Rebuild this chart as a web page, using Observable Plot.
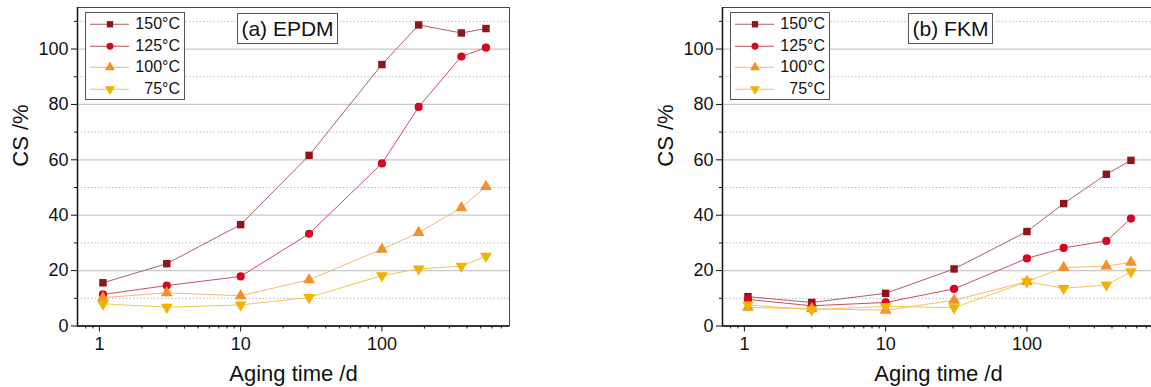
<!DOCTYPE html>
<html>
<head>
<meta charset="utf-8">
<script src="https://cdn.jsdelivr.net/npm/d3@7"></script>
<script src="https://cdn.jsdelivr.net/npm/@observablehq/plot@0.6"></script>
<style>
  html, body { margin: 0; padding: 0; background: #fff; overflow: hidden; width: 1151px; height: 387px; }
  #wrap { position: relative; width: 1151px; height: 387px; overflow: hidden; }
  .panel { position: absolute; top: 0; width: 575px; height: 387px; }
  .panel svg { font-family: Arial, "Liberation Sans", sans-serif; overflow: visible; max-width: none !important; width: 575px; height: 387px; }
  .legend { position: absolute; border: 1px solid #555; background: #fff; font-family: Arial, "Liberation Sans", sans-serif; font-size: 16px; color: #111; }
  .legend .row { position: relative; height: 21.5px; }
  .legend svg { position: absolute; left: 0; top: 0; }
  .legend .lab { position: absolute; right: 4px; top: 1px; line-height: 20px; }
  .title { position: absolute; border: 1px solid #555; background: #fff; font-family: Arial, "Liberation Sans", sans-serif; font-size: 21px; color: #111; text-align: center; line-height: 29px; }
</style>
</head>
<body>
<div id="wrap"></div>
<script>
// ---- data ----
const agingDays = [1.06, 3, 10, 30.5, 100, 182, 365, 545];
const temps = ["150°C", "125°C", "100°C", "75°C"];
const epdm150 = [15.6, 22.5, 36.6, 61.6, 94.4, 108.7, 105.8, 107.4];
const epdm125 = [11.4, 14.6, 17.9, 33.3, 58.7, 79.1, 97.3, 100.5];
const epdm100 = [10.2, 12.0, 10.9, 16.7, 27.7, 33.7, 42.7, 50.3];
const epdm75  = [8.0, 6.8, 7.6, 10.3, 18.2, 20.6, 21.6, 25.2];
const fkm150 = [10.6, 8.5, 11.8, 20.6, 34.1, 44.2, 54.8, 59.8];
const fkm125 = [9.6, 7.3, 8.5, 13.4, 24.4, 28.2, 30.7, 38.8];
const fkm100 = [6.7, 6.2, 5.7, 9.3, 16.0, 21.1, 21.6, 23.0];
const fkm75  = [7.6, 5.9, 7.1, 6.6, 16.0, 13.6, 14.8, 19.6];
const panelTitles = ["(a) EPDM", "(b) FKM"];
const yMajor = [0, 20, 40, 60, 80, 100];
const yMinor = [10, 30, 50, 70, 90, 110];
const xMajor = [1, 10, 100];
const xMinor = [0.8, 0.9, 2, 3, 4, 5, 6, 7, 8, 9, 20, 30, 40, 50, 60, 70, 80, 90, 200, 300, 400, 500, 600, 700];
const xLabel = "Aging time /d";
const yLabel = "CS /%";

// ---- styles ----
const markerColors = ["#8e1519", "#d3071f", "#f58f2c", "#f5b100"];
const lineColors = ["#a8606a", "#c8505e", "#f2b878", "#f0c850"];
const triangleDown = {
  draw(context, size) {
    const s = Math.sqrt(size / (Math.sqrt(3) / 4));
    const h = s * Math.sqrt(3) / 2;
    context.moveTo(-s / 2, -h / 3);
    context.lineTo(s / 2, -h / 3);
    context.lineTo(0, 2 * h / 3);
    context.closePath();
  }
};
const triangleUp = {
  draw(context, size) {
    const s = Math.sqrt(size / (Math.sqrt(3) / 4));
    const h = s * Math.sqrt(3) / 2;
    context.moveTo(-s / 2, h / 3);
    context.lineTo(s / 2, h / 3);
    context.lineTo(0, -2 * h / 3);
    context.closePath();
  }
};
const symbols = ["square", "circle", triangleUp, triangleDown];
const radii = [4.2, 4.1, 4.4, 4.4];

function makeRows(series) {
  const rows = [];
  series.forEach((vals, i) => {
    vals.forEach((v, j) => rows.push({t: temps[i], idx: i, x: agingDays[j], y: v}));
  });
  return rows;
}

function panel(series, title, left) {
  const rows = makeRows(series);
  const marks = [
    Plot.gridY(yMinor, {stroke: "#bbb", strokeOpacity: 1, strokeDasharray: "1.5,2", strokeWidth: 1}),
    Plot.gridY(yMajor.slice(1), {stroke: "#c8c8c8", strokeOpacity: 1, strokeWidth: 1.2})
  ];
  series.forEach((vals, i) => {
    const data = rows.filter(d => d.idx === i);
    marks.push(Plot.line(data, {x: "x", y: "y", stroke: lineColors[i], strokeWidth: 1}));
  });
  series.forEach((vals, i) => {
    const data = rows.filter(d => d.idx === i);
    marks.push(Plot.dot(data, {x: "x", y: "y", symbol: () => symbols[i], fill: markerColors[i], stroke: "none", r: radii[i]}));
  });
  marks.push(
    Plot.frame({stroke: "#444", strokeWidth: 1}),
    Plot.ruleX([0.7], {stroke: "#111", strokeWidth: 1.5}),
    Plot.ruleY([0], {stroke: "#111", strokeWidth: 1.5}),
    Plot.axisY(yMajor, {anchor: "left", tickSize: 6, tickPadding: 3, fontSize: 18, stroke: "#111", label: null, color: "#111"}),
    Plot.axisY(yMinor, {anchor: "left", tickSize: 3, tickFormat: () => "", label: null, stroke: "#111"}),
    Plot.axisX(xMajor, {anchor: "bottom", tickSize: 6, tickPadding: 5, fontSize: 18, stroke: "#111", label: null, tickFormat: d => String(d)}),
    Plot.axisX(xMinor, {anchor: "bottom", tickSize: 3, tickFormat: () => "", label: null, stroke: "#111"}),
    Plot.text([xLabel], {frameAnchor: "bottom", dy: 55, fontSize: 22, fill: "#111", text: d => d}),
    Plot.text([yLabel], {frameAnchor: "left", dx: -57, rotate: -90, fontSize: 22, fill: "#111", text: d => d})
  );
  const chart = Plot.plot({
    width: 575,
    height: 387,
    marginLeft: 77,
    marginRight: 66,
    marginTop: 7,
    marginBottom: 61.5,
    x: {type: "log", domain: [0.7, 800], axis: null},
    y: {domain: [0, 115], axis: null},
    style: {fontFamily: "Arial, 'Liberation Sans', sans-serif", color: "#111", background: "transparent"},
    marks
  });
  const div = document.createElement("div");
  div.className = "panel";
  div.style.left = left + "px";
  div.appendChild(chart);
  document.getElementById("wrap").appendChild(div);
}

function legend(left, top) {
  const box = document.createElement("div");
  box.className = "legend";
  box.style.left = left + "px";
  box.style.top = top + "px";
  box.style.width = "98px";
  box.style.height = "86px";
  temps.forEach((t, i) => {
    const row = document.createElement("div");
    row.className = "row";
    const svg = Plot.plot({
      width: 50, height: 21.5, margin: 0,
      x: {domain: [0, 1], axis: null}, y: {domain: [0, 1], axis: null},
      marks: [
        Plot.ruleY([0.5], {x1: 0.08, x2: 0.86, stroke: lineColors[i], strokeWidth: 1}),
        Plot.dot([{x: 0.47, y: 0.5}], {x: "x", y: "y", symbol: () => symbols[i], fill: markerColors[i], stroke: "none", r: radii[i] * 0.85})
      ]
    });
    row.appendChild(svg);
    const lab = document.createElement("div");
    lab.className = "lab";
    lab.textContent = t;
    row.appendChild(lab);
    box.appendChild(row);
  });
  document.getElementById("wrap").appendChild(box);
}

function titleBox(text, left, width) {
  const b = document.createElement("div");
  b.className = "title";
  b.style.left = left + "px";
  b.style.top = "13px";
  b.style.width = width + "px";
  b.style.height = "29px";
  b.textContent = text;
  document.getElementById("wrap").appendChild(b);
}

panel([epdm150, epdm125, epdm100, epdm75], panelTitles[0], 0);
panel([fkm150, fkm125, fkm100, fkm75], panelTitles[1], 645);
legend(85, 12);
legend(730, 12);
titleBox(panelTitles[0], 237, 99);
titleBox(panelTitles[1], 908, 83);
</script>
</body>
</html>
